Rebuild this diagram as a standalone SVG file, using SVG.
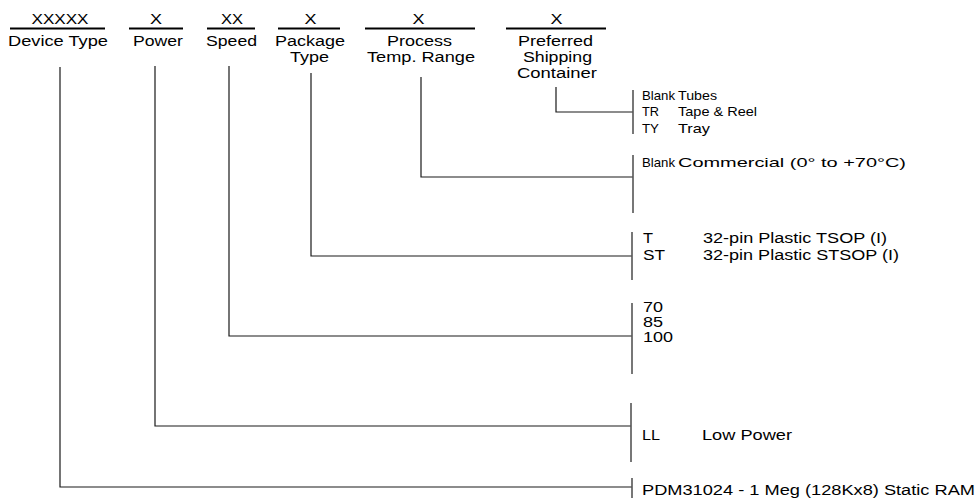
<svg xmlns="http://www.w3.org/2000/svg" width="978" height="498" viewBox="0 0 978 498">
<style>
  .bg{fill:#fff}
  .rule{stroke:#000;stroke-width:2;fill:none}
  .conn{stroke:#1a1a1a;stroke-width:1.2;fill:none}
  .bar{stroke:#555;stroke-width:1.6;fill:none}
  text{font-family:"Liberation Sans",Arial,sans-serif;font-size:14px;fill:#000}
  .c{text-anchor:middle}
  .s{font-size:13px}
</style>
<rect class="bg" x="0" y="0" width="978" height="498"/>

<g id="connectors">
  <path class="conn" d="M60 67 V487 H632"/>
  <path class="conn" d="M155 66 V426 H631"/>
  <path class="conn" d="M229 66 V336 H632"/>
  <path class="conn" d="M311 73 V256 H632"/>
  <path class="conn" d="M421 77 V177 H633"/>
  <path class="conn" d="M556 87 V112 H633"/>
</g>

<g id="field-device-type">
  <line class="rule" x1="10" y1="28.5" x2="105" y2="28.5"/>
  <text class="c" x="60" y="23.5" textLength="57" lengthAdjust="spacingAndGlyphs">XXXXX</text>
  <text class="c" x="58" y="46" textLength="100" lengthAdjust="spacingAndGlyphs">Device Type</text>
</g>
<g id="field-power">
  <line class="rule" x1="129" y1="28.5" x2="183" y2="28.5"/>
  <text class="c" x="156" y="23.5" textLength="12" lengthAdjust="spacingAndGlyphs">X</text>
  <text class="c" x="158" y="46" textLength="50" lengthAdjust="spacingAndGlyphs">Power</text>
</g>
<g id="field-speed">
  <line class="rule" x1="207" y1="28.5" x2="255" y2="28.5"/>
  <text class="c" x="232" y="23.5" textLength="22" lengthAdjust="spacingAndGlyphs">XX</text>
  <text class="c" x="231.5" y="46" textLength="51" lengthAdjust="spacingAndGlyphs">Speed</text>
</g>
<g id="field-package-type">
  <line class="rule" x1="278" y1="28.5" x2="340" y2="28.5"/>
  <text class="c" x="310.5" y="23.5" textLength="12" lengthAdjust="spacingAndGlyphs">X</text>
  <text class="c" x="310" y="46" textLength="70" lengthAdjust="spacingAndGlyphs">Package</text>
  <text class="c" x="309.5" y="62" textLength="39" lengthAdjust="spacingAndGlyphs">Type</text>
</g>
<g id="field-process-temp">
  <line class="rule" x1="365" y1="28.5" x2="475" y2="28.5"/>
  <text class="c" x="418.5" y="23.5" textLength="12" lengthAdjust="spacingAndGlyphs">X</text>
  <text class="c" x="419.5" y="46" textLength="65" lengthAdjust="spacingAndGlyphs">Process</text>
  <text class="c" x="421" y="62" textLength="108" lengthAdjust="spacingAndGlyphs">Temp. Range</text>
</g>
<g id="field-shipping">
  <line class="rule" x1="506" y1="28.5" x2="606" y2="28.5"/>
  <text class="c" x="556.5" y="23.5" textLength="12" lengthAdjust="spacingAndGlyphs">X</text>
  <text class="c" x="555.5" y="46" textLength="75" lengthAdjust="spacingAndGlyphs">Preferred</text>
  <text class="c" x="557.5" y="62" textLength="69" lengthAdjust="spacingAndGlyphs">Shipping</text>
  <text class="c" x="557" y="78" textLength="80" lengthAdjust="spacingAndGlyphs">Container</text>
</g>

<g id="options-shipping">
  <line class="bar" x1="633" y1="90" x2="633" y2="134"/>
  <text class="s" x="642" y="99.5" textLength="33" lengthAdjust="spacingAndGlyphs">Blank</text>
  <text class="s" x="678" y="99.5" textLength="39" lengthAdjust="spacingAndGlyphs">Tubes</text>
  <text class="s" x="642" y="116" textLength="17" lengthAdjust="spacingAndGlyphs">TR</text>
  <text class="s" x="678" y="116" textLength="79" lengthAdjust="spacingAndGlyphs">Tape &amp; Reel</text>
  <text class="s" x="642" y="132.5" textLength="17" lengthAdjust="spacingAndGlyphs">TY</text>
  <text class="s" x="678" y="132.5" textLength="32" lengthAdjust="spacingAndGlyphs">Tray</text>
</g>
<g id="options-process-temp">
  <line class="bar" x1="633" y1="155" x2="633" y2="213"/>
  <text class="s" x="642" y="166.5" textLength="33" lengthAdjust="spacingAndGlyphs">Blank</text>
  <text class="s" x="678" y="166.5" textLength="228" lengthAdjust="spacingAndGlyphs">Commercial (0° to +70°C)</text>
</g>
<g id="options-package">
  <line class="bar" x1="632" y1="232" x2="632" y2="280"/>
  <text x="643" y="243" textLength="10" lengthAdjust="spacingAndGlyphs">T</text>
  <text x="703" y="243" textLength="184" lengthAdjust="spacingAndGlyphs">32-pin Plastic TSOP (I)</text>
  <text x="643" y="259.5" textLength="22" lengthAdjust="spacingAndGlyphs">ST</text>
  <text x="703" y="259.5" textLength="196" lengthAdjust="spacingAndGlyphs">32-pin Plastic STSOP (I)</text>
</g>
<g id="options-speed">
  <line class="bar" x1="632" y1="303" x2="632" y2="374"/>
  <text x="643" y="312" textLength="20" lengthAdjust="spacingAndGlyphs">70</text>
  <text x="643" y="327" textLength="20" lengthAdjust="spacingAndGlyphs">85</text>
  <text x="643" y="342" textLength="30" lengthAdjust="spacingAndGlyphs">100</text>
</g>
<g id="options-power">
  <line class="bar" x1="631" y1="403" x2="631" y2="462"/>
  <text x="642" y="440" textLength="18" lengthAdjust="spacingAndGlyphs">LL</text>
  <text x="702" y="440" textLength="90" lengthAdjust="spacingAndGlyphs">Low Power</text>
</g>
<g id="options-device">
  <line class="bar" x1="632" y1="478" x2="632" y2="498"/>
  <text x="642" y="495" textLength="333" lengthAdjust="spacingAndGlyphs">PDM31024 - 1 Meg (128Kx8) Static RAM</text>
</g>
</svg>
